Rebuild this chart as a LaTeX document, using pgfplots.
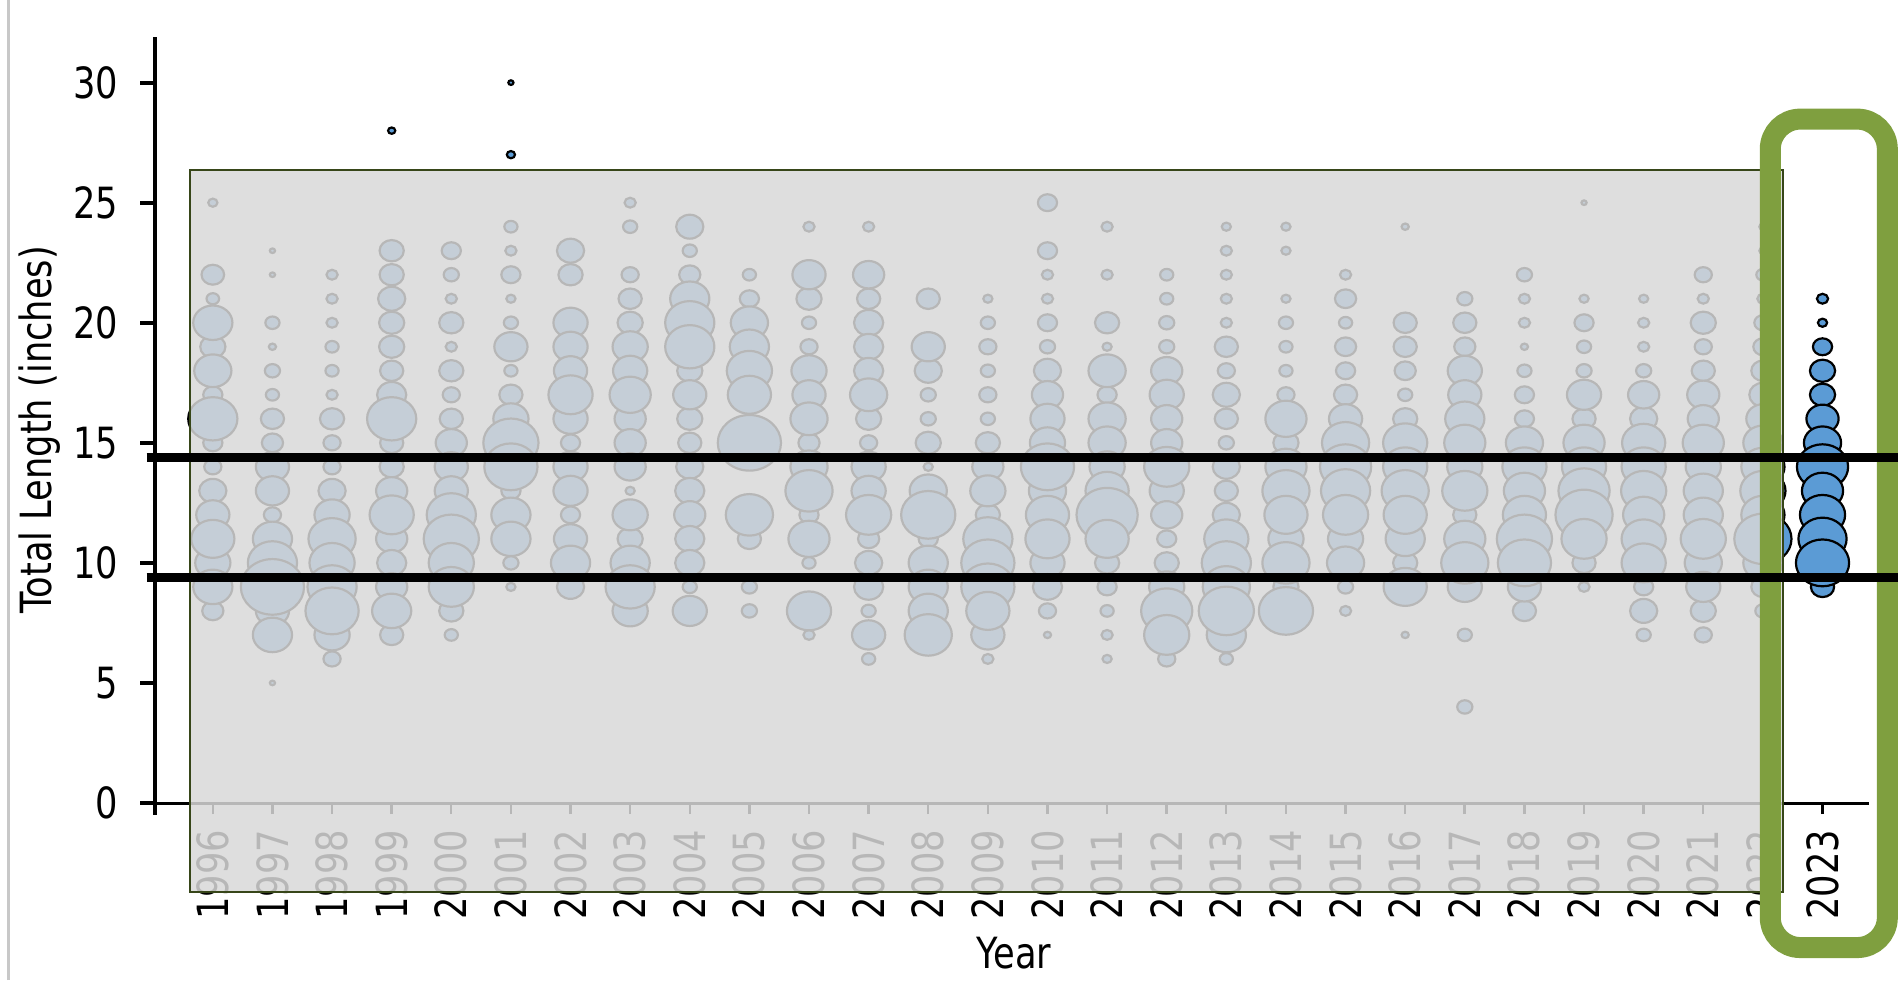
\documentclass[border=0pt]{standalone}
\usepackage{pgfplots}
\pgfplotsset{compat=1.18}
\usepackage{pgfplotstable}
\usepackage{fontspec}
\setmainfont{DejaVu Sans}[FakeStretch=0.82]
\newcommand\chartfont{\fontsize{21.5}{26}\selectfont}
\definecolor{bubbleblue}{RGB}{91,155,213}
\definecolor{veil}{RGB}{216,216,216}
\definecolor{veiledge}{RGB}{55,70,25}
\definecolor{hlgreen}{RGB}{127,159,63}
\definecolor{frame}{RGB}{200,200,200}

% x = year, y = total length (inches), r = bubble radius (px of reference)
\pgfplotstableread{
x y r
1996 25 5
1996 22 11.7
1996 21 6.7
1996 20 20
1996 19 13
1996 18 19
1996 17 10
1996 16 25
1996 15 10
1996 14 9
1996 13 14
1996 12 17
1996 11 22
1996 10 18
1996 9 20
1996 8 11
1997 23 3
1997 22 3
1997 20 7.5
1997 19 4
1997 18 8
1997 17 7
1997 16 12
1997 15 11
1997 14 17
1997 13 17
1997 12 9
1997 11 20
1997 10 25
1997 9 32
1997 8 17
1997 7 20
1997 5 3
1998 22 6
1998 21 6
1998 20 6
1998 19 7
1998 18 7
1998 17 6
1998 16 12.5
1998 15 9
1998 14 9
1998 13 14
1998 12 18
1998 11 24
1998 10 23
1998 9 25
1998 8 27
1998 7 18
1998 6 9
1999 28 4
1999 23 12.5
1999 22 12.5
1999 21 14
1999 20 13
1999 19 13
1999 18 12
1999 17 15
1999 16 25
1999 15 12
1999 14 12.5
1999 13 16
1999 12 22.5
1999 11 16
1999 10 15
1999 9 16
1999 8 20
1999 7 12
2000 23 10
2000 22 8
2000 21 6
2000 20 12.5
2000 19 6
2000 18 12.5
2000 17 9
2000 16 12
2000 15 16
2000 14 17
2000 13 17
2000 12 25
2000 11 28
2000 10 23
2000 9 23
2000 8 12.5
2000 7 7
2001 30 3
2001 27 4.5
2001 24 7
2001 23 6
2001 22 10
2001 21 5
2001 20 7.5
2001 19 17
2001 18 7
2001 17 12
2001 16 18
2001 15 28
2001 14 27
2001 13 10
2001 12 20
2001 11 20
2001 10 8
2001 9 5
2002 23 14
2002 22 12.5
2002 20 17.5
2002 19 17.5
2002 18 17
2002 17 22.5
2002 16 17.5
2002 15 10
2002 14 17.5
2002 13 17.5
2002 12 10
2002 11 17
2002 10 20
2002 9 14
2003 25 6
2003 24 7.5
2003 22 9
2003 21 12
2003 20 13
2003 19 18
2003 18 17.5
2003 17 21
2003 16 16
2003 15 16
2003 14 16
2003 13 5
2003 12 18
2003 11 13
2003 10 20
2003 9 25
2003 8 18
2004 24 14
2004 23 7.5
2004 22 11
2004 21 20
2004 20 25
2004 19 25
2004 18 13
2004 17 17
2004 16 13
2004 15 12
2004 14 14
2004 13 15
2004 12 16
2004 11 15
2004 10 15
2004 9 7.5
2004 8 17.5
2005 22 7
2005 21 10
2005 20 19
2005 19 20
2005 18 23
2005 17 22
2005 15 32
2005 12 24
2005 11 12
2005 9 8
2005 8 8
2006 24 6
2006 22 17
2006 21 13
2006 20 7.5
2006 19 9
2006 18 18
2006 17 17
2006 16 19
2006 15 11
2006 14 19
2006 13 24
2006 12 10
2006 11 21
2006 10 7
2006 8 22.5
2006 7 6
2007 24 6
2007 22 16
2007 21 12
2007 20 15
2007 19 15
2007 18 15
2007 17 19
2007 16 13
2007 15 9
2007 14 17.5
2007 13 17.5
2007 12 23
2007 11 11
2007 10 14
2007 9 15
2007 8 7.5
2007 7 17
2007 6 7
2008 21 12
2008 19 17
2008 18 14
2008 17 8
2008 16 8
2008 15 13
2008 14 5
2008 13 19
2008 12 27.5
2008 11 10
2008 10 20
2008 9 20
2008 8 20
2008 7 24
2009 21 5
2009 20 7.5
2009 19 9
2009 18 7.5
2009 17 9
2009 16 7.5
2009 15 12.5
2009 14 16
2009 13 18
2009 12 12.5
2009 11 25
2009 10 27
2009 9 27
2009 8 22
2009 7 17
2009 6 6
2010 25 10
2010 23 10
2010 22 6
2010 21 6
2010 20 10
2010 19 8
2010 18 14
2010 17 16
2010 16 17.5
2010 15 18
2010 14 27
2010 13 19
2010 12 22
2010 11 22.5
2010 10 17.5
2010 9 15
2010 8 9
2010 7 4
2011 24 6
2011 22 6
2011 20 12.5
2011 19 5
2011 18 19
2011 17 10
2011 16 19
2011 15 19
2011 14 18
2011 13 22
2011 12 31
2011 11 22
2011 10 12.5
2011 9 10
2011 8 7
2011 7 6
2011 6 5
2012 22 7
2012 21 7
2012 20 8
2012 19 8
2012 18 16
2012 17 17.5
2012 16 16
2012 15 16
2012 14 23
2012 13 17.5
2012 12 16
2012 11 10
2012 10 12.5
2012 9 18
2012 8 26
2012 7 23
2012 6 9
2013 24 5
2013 23 6
2013 22 6
2013 21 6
2013 20 6
2013 19 12
2013 18 9
2013 17 14
2013 16 12
2013 15 8
2013 14 14
2013 13 12
2013 12 14
2013 11 22.5
2013 10 25
2013 9 24
2013 8 28
2013 7 20
2013 6 7
2014 24 5
2014 23 5
2014 21 5
2014 20 7.5
2014 19 7
2014 18 7
2014 17 9
2014 16 21
2014 15 13
2014 14 21
2014 13 24
2014 12 22
2014 11 18
2014 10 24
2014 9 13
2014 8 27.5
2015 22 6
2015 21 11
2015 20 7
2015 19 11
2015 18 10
2015 17 12
2015 16 17
2015 15 24
2015 14 26
2015 13 25
2015 12 23
2015 11 18
2015 10 19
2015 9 8
2015 8 6
2016 24 4
2016 20 12
2016 19 12
2016 18 11
2016 17 7.5
2016 16 12.5
2016 15 22.5
2016 14 22.5
2016 13 24
2016 12 22
2016 11 20
2016 10 12.5
2016 9 22
2016 7 4
2017 21 8
2017 20 12
2017 19 11
2017 18 17.5
2017 17 17
2017 16 20
2017 15 21
2017 14 18
2017 13 23
2017 12 12
2017 11 21
2017 10 24
2017 9 17.5
2017 7 7.5
2017 4 8
2018 22 8
2018 21 6
2018 20 6
2018 19 4
2018 18 7.5
2018 17 10
2018 16 10
2018 15 19
2018 14 22.5
2018 13 21
2018 12 22
2018 11 28
2018 10 27
2018 9 17
2018 8 12
2019 25 3
2019 21 5
2019 20 10
2019 19 7.5
2019 18 8
2019 17 17.5
2019 16 12
2019 15 21
2019 14 22.5
2019 13 26
2019 12 29
2019 11 23
2019 10 12
2019 9 6
2020 21 5
2020 20 6
2020 19 6
2020 18 8
2020 17 16
2020 16 14
2020 15 22
2020 14 22.5
2020 13 23
2020 12 21
2020 11 22.5
2020 10 22.5
2020 9 10
2020 8 14
2020 7 7.5
2021 22 9
2021 21 6
2021 20 13
2021 19 9
2021 18 12
2021 17 16.5
2021 16 16
2021 15 21
2021 14 18
2021 13 20
2021 12 20
2021 11 23
2021 10 19
2021 9 17.5
2021 8 13
2021 7 9
2022 24 4
2022 23 4
2022 22 7
2022 21 6
2022 20 9
2022 19 10
2022 18 12
2022 17 14
2022 16 17
2022 15 20
2022 14 22
2022 13 23
2022 12 22
2022 11 29
2022 10 20
2022 9 12
2022 8 8
2023 21 6
2023 20 5
2023 19 10
2023 18 13
2023 17 13
2023 16 16.5
2023 15 19
2023 14 26
2023 13 21
2023 12 23
2023 11 24.5
2023 10 27
2023 9 12
}\fishdata

\pgfplotsset{
  bubble/.style={
    scatter, only marks, mark=*,
    point meta=explicit, point meta min=0, point meta max=100,
    scatter/@pre marker code/.code={%
      \pgfmathsetmacro{\ms}{0.05*\pgfplotspointmetatransformed-0.2}%
      \scope[mark size=\ms pt, fill=bubbleblue, draw=black, line width=1.1pt]%
    },
    scatter/@post marker code/.code={\endscope},
    mark options={yscale=0.88},
  }
}

\begin{document}
\begin{tikzpicture}
\useasboundingbox (0,0) rectangle (949pt,490pt);
\draw[frame, line width=1.5pt] (4pt,0) -- (4pt,490pt);
\begin{axis}[
  at={(77.5pt,88.5pt)}, anchor=south west,
  scale only axis, width=857pt, height=383pt,
  xmin=1995.03, xmax=2023.78, ymin=0, ymax=31.9,
  axis lines*=left,
  clip=false,
  tick align=outside,
  xtick={1996,...,2023},
  xticklabels={1996,1997,1998,1999,2000,2001,2002,2003,2004,2005,2006,2007,2008,2009,2010,2011,2012,2013,2014,2015,2016,2017,2018,2019,2020,2021,2022,2023},
  ytick={0,5,...,30},
  yticklabels={0,5,10,15,20,25,30},
  x axis line style={line width=1.5pt},
  y axis line style={line width=2pt},
  xtick style={line width=1.2pt, black, /pgfplots/major tick length=5.5pt},
  ytick style={line width=2pt, black, /pgfplots/major tick length=7.5pt},
  xticklabel style={font=\chartfont, rotate=90, anchor=east, inner ysep=0pt, inner xsep=9pt},
  yticklabel style={font=\chartfont, anchor=east, inner ysep=0pt, inner xsep=14pt},
  xlabel={Year},
  ylabel={Total Length (inches)},
  xlabel style={font=\chartfont, at={(axis description cs:0.5012,-0.1958)}, anchor=center},
  ylabel style={font=\chartfont, at={(axis description cs:-0.0671,0.487)}, anchor=center},
]
\addplot[bubble, restrict expr to domain={\thisrow{r}}{0:8.99}] table[x=x,y=y,meta=r] {\fishdata};
\addplot[bubble, restrict expr to domain={\thisrow{r}}{9:14.99}] table[x=x,y=y,meta=r] {\fishdata};
\addplot[bubble, restrict expr to domain={\thisrow{r}}{15:20.99}] table[x=x,y=y,meta=r] {\fishdata};
\addplot[bubble, restrict expr to domain={\thisrow{r}}{21:40}] table[x=x,y=y,meta=r] {\fishdata};
\draw[line width=2pt] (axis cs:1995.03,0) -- (axis cs:1995.03,-0.5);
\coordinate (ovA) at (axis cs:1995.614,26.375);
\coordinate (ovB) at (axis cs:2022.342,-3.708);
\coordinate (gA) at (axis cs:2022.124,28.48);
\coordinate (gB) at (axis cs:2024.087,-6.02);
\coordinate (hA) at (axis cs:1994.89,14.4);
\coordinate (hB) at (axis cs:2024.4,14.4);
\coordinate (lA) at (axis cs:1994.89,9.4);
\coordinate (lB) at (axis cs:2024.4,9.4);
\end{axis}
\fill[veil, fill opacity=0.85] (ovA) rectangle (ovB);
\draw[veiledge, line width=1pt] (ovA) rectangle (ovB);
\draw[hlgreen, line width=10.5pt, rounded corners=15pt] (gA) rectangle (gB);
\draw[black, line width=4.5pt] (hA) -- (hB);
\draw[black, line width=4.5pt] (lA) -- (lB);
\end{tikzpicture}
\end{document}
